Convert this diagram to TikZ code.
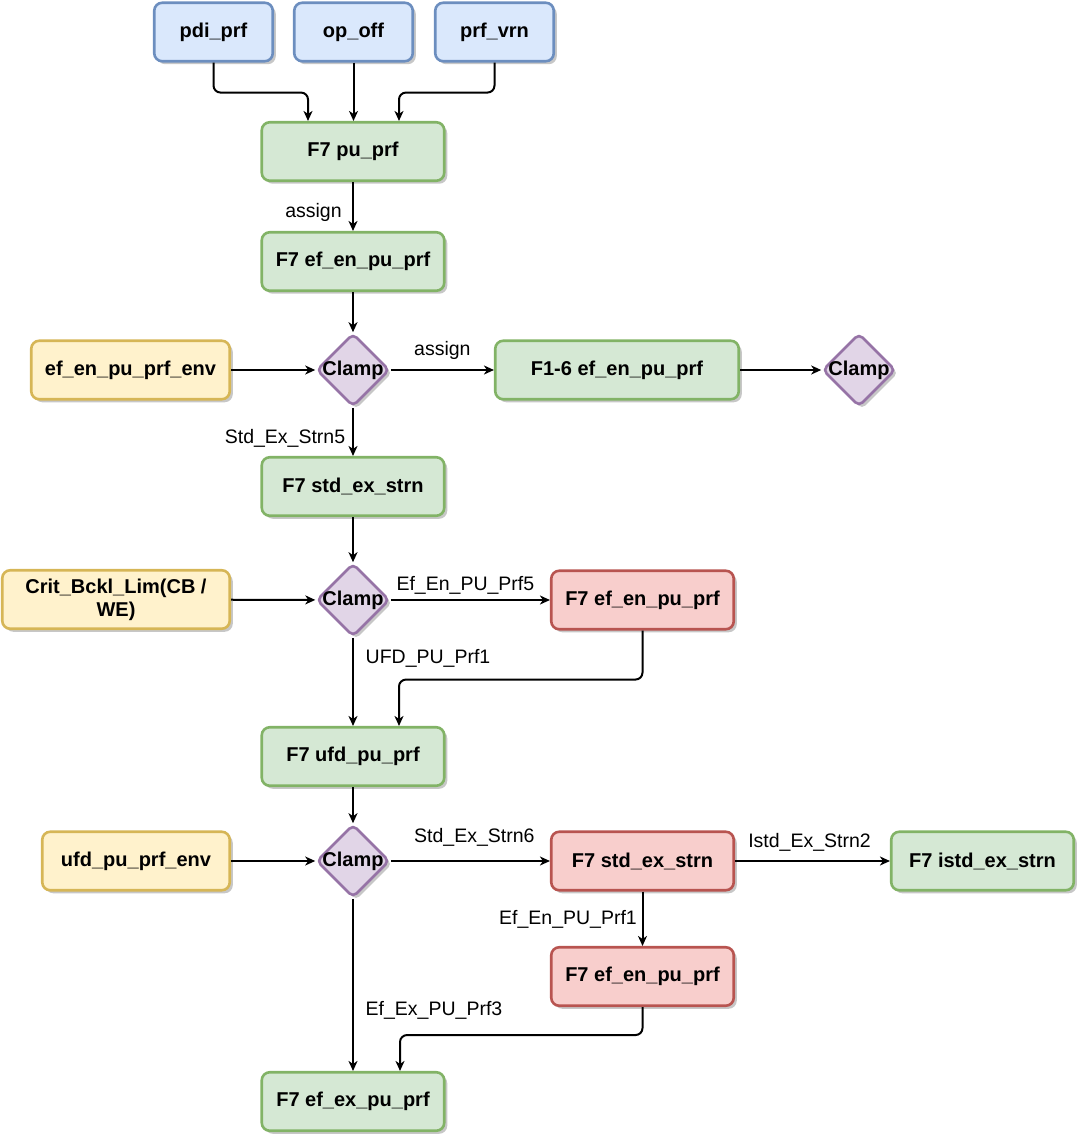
\documentclass[tikz,border=0pt]{standalone}
\usepackage{fontspec}
\setmainfont{Liberation Sans}
\usetikzlibrary{arrows.meta,shapes.geometric,shadows}
\definecolor{bfill}{HTML}{DAE8FC}\definecolor{bline}{HTML}{6C8EBF}
\definecolor{gfill}{HTML}{D5E8D4}\definecolor{gline}{HTML}{82B366}
\definecolor{yfill}{HTML}{FFF2CC}\definecolor{yline}{HTML}{D6B656}
\definecolor{rfill}{HTML}{F8CECC}\definecolor{rline}{HTML}{B85450}
\definecolor{pfill}{HTML}{E1D5E7}\definecolor{pline}{HTML}{9673A6}
\begin{document}
\begin{tikzpicture}[x=1pt,y=-1pt,
  shad/.style={drop shadow={shadow xshift=3pt,shadow yshift=-3pt,opacity=0.22,fill=black}},
  box/.style={draw, rounded corners=8pt, line width=2.6pt, minimum height=58.5pt,
    font=\fontsize{20}{23}\selectfont\bfseries, align=center, inner sep=2pt, shad},
  bluebox/.style={box, fill=bfill, draw=bline, minimum width=118.5pt},
  greenbox/.style={box, fill=gfill, draw=gline, minimum width=182.5pt},
  redbox/.style={box, fill=rfill, draw=rline, minimum width=182.5pt},
  yellowbox/.style={box, fill=yfill, draw=yline},
  clampd/.style={diamond, draw=pline, fill=pfill, line width=2.6pt, rounded corners=5pt,
    minimum width=73pt, minimum height=73pt, inner sep=0pt, shad,
    label={[font=\fontsize{20}{23}\selectfont\bfseries, inner sep=0pt]center:Clamp}},
  arr/.style={-{Stealth[length=10pt,width=9pt,inset=3pt]}, line width=2pt},
  lbl/.style={font=\fontsize{19.5}{23}\selectfont, inner sep=0pt, anchor=center}
]
\useasboundingbox (0,0) rectangle (1082,1139);

% nodes
\node[bluebox] (pdi) at (213.5,32) {pdi\_prf};
\node[bluebox] (op) at (353.5,32) {op\_off};
\node[bluebox] (prf) at (494.5,32) {prf\_vrn};
\node[greenbox] (pu) at (353,151.5) {F7 pu\_prf};
\node[greenbox] (efen) at (353,261.5) {F7 ef\_en\_pu\_prf};
\node[yellowbox, minimum width=198.5pt] (env1) at (130.5,370) {ef\_en\_pu\_prf\_env};
\node[clampd] (c1) at (353,370) {};
\node[greenbox, minimum width=243.5pt] (f16) at (617,370) {F1-6 ef\_en\_pu\_prf};
\node[clampd] (c2) at (859,370) {};
\node[greenbox] (std) at (353,486.5) {F7 std\_ex\_strn};
\node[yellowbox, minimum width=227.5pt] (crit) at (116,599.5) {Crit\_Bckl\_Lim(CB /\\WE)};
\node[clampd] (c3) at (353,600) {};
\node[redbox] (red1) at (642.5,600) {F7 ef\_en\_pu\_prf};
\node[greenbox] (ufd) at (353,756.5) {F7 ufd\_pu\_prf};
\node[yellowbox, minimum width=187.5pt] (env2) at (136,861) {ufd\_pu\_prf\_env};
\node[clampd] (c4) at (353,861) {};
\node[redbox] (red2) at (642.5,861) {F7 std\_ex\_strn};
\node[greenbox] (istd) at (982.5,861) {F7 istd\_ex\_strn};
\node[redbox] (red3) at (642.5,976.5) {F7 ef\_en\_pu\_prf};
\node[greenbox] (efex) at (353,1101.5) {F7 ef\_ex\_pu\_prf};

% connectors
\draw[arr, rounded corners=7pt] (pdi.south) -- ++(0,30) -| ([xshift=-45pt]pu.north);
\draw[arr] (op.south) -- (op.south |- pu.north);
\draw[arr, rounded corners=7pt] (prf.south) -- ++(0,30) -| ([xshift=46pt]pu.north);
\draw[arr] (pu) -- node[lbl, xshift=-39.5pt, yshift=-5.5pt] {assign} (efen);
\draw[arr] (efen) -- (c1);
\draw[arr] (env1) -- (c1);
\draw[arr] (c1) -- node[lbl, yshift=20pt] {assign} (f16);
\draw[arr] (f16) -- (c2);
\draw[arr] (c1) -- node[lbl, xshift=-68pt, yshift=-6pt] {Std\_Ex\_Strn5} (std);
\draw[arr] (std) -- (c3);
\draw[arr] (crit) -- (c3);
\draw[arr] (c3) -- node[lbl, xshift=-5pt, yshift=15pt] {Ef\_En\_PU\_Prf5} (red1);
\draw[arr] (c3) -- node[lbl, xshift=75pt, yshift=24pt] {UFD\_PU\_Prf1} (ufd);
\draw[arr, rounded corners=7pt] (red1.south) -- ++(0,49) -| ([xshift=46pt]ufd.north);
\draw[arr] (ufd) -- (c4);
\draw[arr] (env2) -- (c4);
\draw[arr] (c4) -- node[lbl, xshift=4pt, yshift=24pt] {Std\_Ex\_Strn6} (red2);
\draw[arr] (red2) -- node[lbl, xshift=-3pt, yshift=19pt] {Istd\_Ex\_Strn2} (istd);
\draw[arr] (red2) -- node[lbl, xshift=-74.5pt, yshift=-1pt] {Ef\_En\_PU\_Prf1} (red3);
\draw[arr] (c4) -- node[lbl, xshift=81pt, yshift=-25pt] {Ef\_Ex\_PU\_Prf3} (efex);
\draw[arr, rounded corners=7pt] (red3.south) -- ++(0,28) -| ([xshift=47pt]efex.north);
\end{tikzpicture}
\end{document}
